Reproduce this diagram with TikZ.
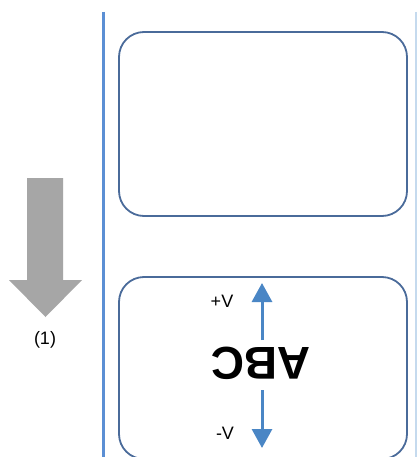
\documentclass[tikz,border=0pt]{standalone}
\usepackage{fontspec}
\setmainfont{Liberation Sans}
\usetikzlibrary{arrows.meta}
\definecolor{boxline}{HTML}{4A6B9A}
\definecolor{sideline}{HTML}{5B8FD4}
\definecolor{lightline}{HTML}{C5DAEE}
\definecolor{vblue}{HTML}{4A86C5}
\definecolor{grayarrow}{HTML}{A6A6A6}
\tikzset{
  panel/.style={draw=boxline, line width=1.8pt, rounded corners=25pt},
  varrow/.style={draw=vblue, line width=3pt, -{Triangle[width=20pt,length=19pt]}},
  vlabel/.style={font=\fontsize{18}{18}\selectfont, inner sep=0pt}
}
\begin{document}
\begin{tikzpicture}[x=1pt,y=1pt]
\useasboundingbox (0,0) rectangle (419,-457);
\clip (0,0) rectangle (419,-457);
\fill[white] (0,0) rectangle (419,-457);
% side lines
\draw[sideline, line width=3pt] (103,-12) -- (103,-457);
\draw[lightline, line width=1.2pt] (416,-12) -- (416,-457);
% panels
\draw[panel] (119,-32) rectangle (407,-216);
\draw[panel] (119,-277) rectangle (407,-459);
% gray arrow
\fill[grayarrow] (27,-178) -- (63,-178) -- (63,-280) -- (82,-280) -- (45.5,-317) -- (9,-280) -- (27,-280) -- cycle;
\node[font=\fontsize{18}{18}\selectfont, inner sep=0pt] (step1) at (45,-340) {(1)};
% ABC
\node[font=\bfseries\fontsize{46}{46}\selectfont, inner sep=0pt, rotate=180] (abc) at (261,-363) {ABC};
\coordinate (uptip) at (262,-283);
\coordinate (downtip) at (262,-448);
\coordinate (upstart) at (262,-340);
\coordinate (downstart) at (262,-390);
\draw[varrow] (upstart) -- (uptip);
\draw[varrow] (downstart) -- (downtip);
\node[vlabel] (plusv) at (222,-301) {+V};
\node[vlabel] (minusv) at (225,-433) {-V};
\end{tikzpicture}
\end{document}
